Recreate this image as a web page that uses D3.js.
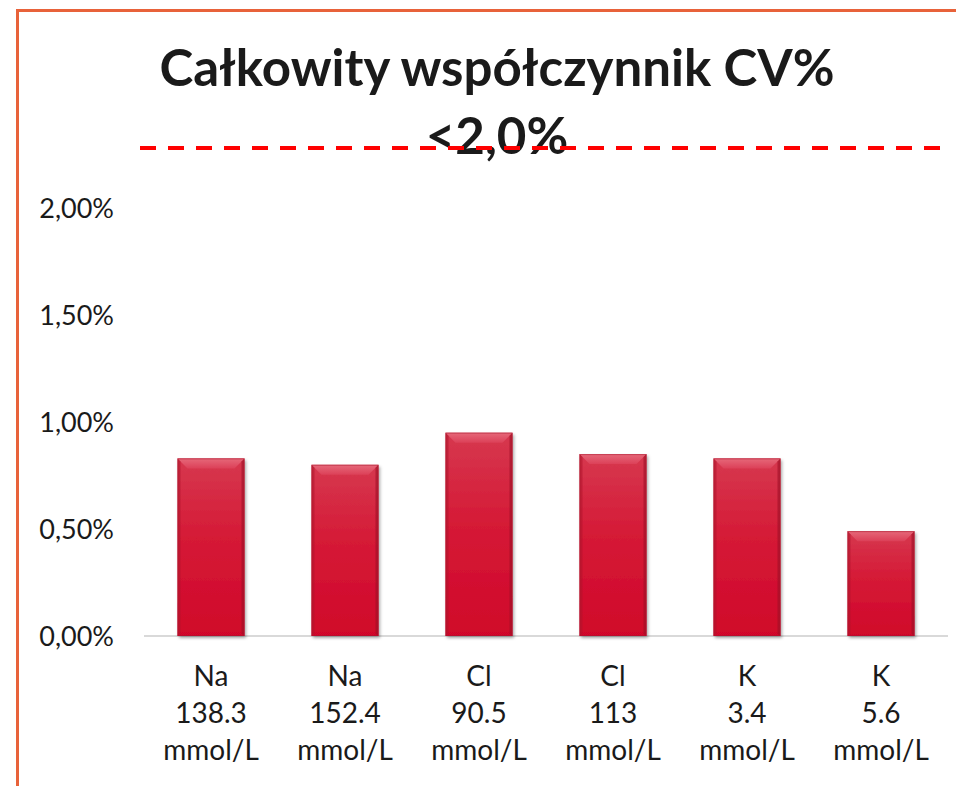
<!DOCTYPE html>
<html>
<head>
<meta charset="utf-8">
<script src="https://cdn.jsdelivr.net/npm/d3@7/dist/d3.min.js"></script>
<style>
  html, body { margin: 0; padding: 0; background: #ffffff; }
  svg { display: block; }
</style>
</head>
<body>
<svg id="chart" width="956" height="786"></svg>
<script>
// Analytes and concentration levels (three label lines per category)
const analytes = ["Na", "Na", "Cl", "Cl", "K", "K"];
const levels = ["138.3", "152.4", "90.5", "113", "3.4", "5.6"];
const units = ["mmol/L", "mmol/L", "mmol/L", "mmol/L", "mmol/L", "mmol/L"];
// Total CV as a fraction
const cvValues = [0.0083, 0.0080, 0.0095, 0.0085, 0.0083, 0.0049];
// Value axis ticks
const yTicks = [0, 0.005, 0.01, 0.015, 0.02];
const titleLines = ["Całkowity współczynnik CV%", "<2,0%"];

const categories = analytes.map((a, i) => `${a} ${levels[i]}`);
const data = categories.map((c, i) => ({ key: c, analyte: analytes[i], level: levels[i], unit: units[i], value: cvValues[i] }));

const svg = d3.select("#chart");
const W = 956, H = 786;
const FONT = "Lato, 'Open Sans', sans-serif";

const plLocale = d3.formatLocale({ decimal: ",", thousands: " ", grouping: [3], currency: ["", " zł"] });
const pct = plLocale.format(".2%");

const margin = { top: 208, right: 8, bottom: 150, left: 144 };
const x = d3.scaleBand()
  .domain(categories)
  .range([margin.left, W - margin.right])
  .paddingInner(0.5)
  .paddingOuter(0.25);
const y = d3.scaleLinear()
  .domain([0, 0.02])
  .range([H - margin.bottom, margin.top]);

// Defs: bar gradients and shadow
const defs = svg.append("defs");
const body = defs.append("linearGradient").attr("id", "barBody").attr("x1", 0).attr("y1", 0).attr("x2", 0).attr("y2", 1);
body.append("stop").attr("offset", "0%").attr("stop-color", "#d6384f");
body.append("stop").attr("offset", "45%").attr("stop-color", "#d51a36");
body.append("stop").attr("offset", "100%").attr("stop-color", "#d0062a");
const bevel = defs.append("linearGradient").attr("id", "barBevel").attr("x1", 0).attr("y1", 0).attr("x2", 0).attr("y2", 1);
bevel.append("stop").attr("offset", "0%").attr("stop-color", "#e6697a");
bevel.append("stop").attr("offset", "100%").attr("stop-color", "#dc4058");
const shadow = defs.append("filter").attr("id", "barShadow").attr("x", "-20%").attr("y", "-10%").attr("width", "140%").attr("height", "130%");
shadow.append("feDropShadow").attr("dx", 1.5).attr("dy", 2).attr("stdDeviation", 1.8).attr("flood-color", "#000").attr("flood-opacity", 0.35);

// Outer frame (left and top edges)
svg.append("path")
  .attr("d", `M17.5,${H} L17.5,10.5 L${W},10.5`)
  .attr("fill", "none")
  .attr("stroke", "#e8623a")
  .attr("stroke-width", 3);

// Baseline
svg.append("line")
  .attr("x1", margin.left).attr("x2", W - margin.right)
  .attr("y1", y(0)).attr("y2", y(0))
  .attr("stroke", "#d9d9d9").attr("stroke-width", 2);

// Y axis
const yAxis = svg.append("g")
  .attr("transform", `translate(${margin.left},0)`)
  .call(d3.axisLeft(y).tickValues(yTicks).tickFormat(pct).tickSize(0).tickPadding(30));
yAxis.select(".domain").remove();
yAxis.selectAll("text")
  .attr("font-family", FONT).attr("font-size", 27).attr("fill", "#1a1a1a")
  .attr("dy", "0.36em");

// Bars
const bars = svg.append("g").selectAll("g.bar").data(data).join("g").attr("class", "bar");
const bw = x.bandwidth();
const bev = 10;
bars.append("rect")
  .attr("x", d => x(d.key)).attr("y", d => y(d.value))
  .attr("width", bw).attr("height", d => y(0) - y(d.value))
  .attr("fill", "url(#barBody)")
  .attr("filter", "url(#barShadow)");
// top bevel
bars.append("path")
  .attr("d", d => {
    const x0 = x(d.key), y0 = y(d.value);
    return `M${x0},${y0} L${x0 + bw},${y0} L${x0 + bw - bev},${y0 + bev} L${x0 + bev},${y0 + bev} Z`;
  })
  .attr("fill", "url(#barBevel)");
// side edges
bars.append("path")
  .attr("d", d => {
    const x0 = x(d.key), y0 = y(d.value), y1 = y(0);
    return `M${x0},${y0} L${x0 + 3},${y0 + 3} L${x0 + 3},${y1 - 2} L${x0},${y1} Z`;
  })
  .attr("fill", "#b0142c").attr("opacity", 0.55);
bars.append("path")
  .attr("d", d => {
    const x0 = x(d.key) + bw, y0 = y(d.value), y1 = y(0);
    return `M${x0},${y0} L${x0 - 3},${y0 + 3} L${x0 - 3},${y1 - 2} L${x0},${y1} Z`;
  })
  .attr("fill", "#9c0f26").attr("opacity", 0.6);
bars.append("rect")
  .attr("x", d => x(d.key) + 0.5).attr("y", d => y(d.value) + 0.5)
  .attr("width", bw - 1).attr("height", d => y(0) - y(d.value) - 1)
  .attr("fill", "none").attr("stroke", "#a8182e").attr("stroke-opacity", 0.5).attr("stroke-width", 1);

// Category labels (three lines)
const xl = svg.append("g").selectAll("text").data(data).join("text")
  .attr("x", d => x(d.key) + bw / 2)
  .attr("y", 686)
  .attr("text-anchor", "middle")
  .attr("font-family", FONT).attr("font-size", 28).attr("fill", "#1a1a1a");
xl.append("tspan").attr("x", d => x(d.key) + bw / 2).attr("dy", 0).text(d => d.analyte);
xl.append("tspan").attr("x", d => x(d.key) + bw / 2).attr("dy", 37).text(d => d.level);
xl.append("tspan").attr("x", d => x(d.key) + bw / 2).attr("dy", 37).text(d => d.unit);

// Title
const title = svg.append("text")
  .attr("text-anchor", "middle")
  .attr("font-family", FONT).attr("font-weight", 700).attr("font-size", 51).attr("fill", "#1a1a1a");
title.append("tspan").attr("x", 497).attr("y", 86).text(titleLines[0]);
title.append("tspan").attr("x", 497).attr("y", 154).text(titleLines[1]);

// Target threshold marker, drawn across the subtitle
svg.append("line")
  .attr("x1", 140).attr("x2", 942)
  .attr("y1", 148).attr("y2", 148)
  .attr("stroke", "#ff0000").attr("stroke-width", 4)
  .attr("stroke-dasharray", "16 12");
</script>
</body>
</html>
